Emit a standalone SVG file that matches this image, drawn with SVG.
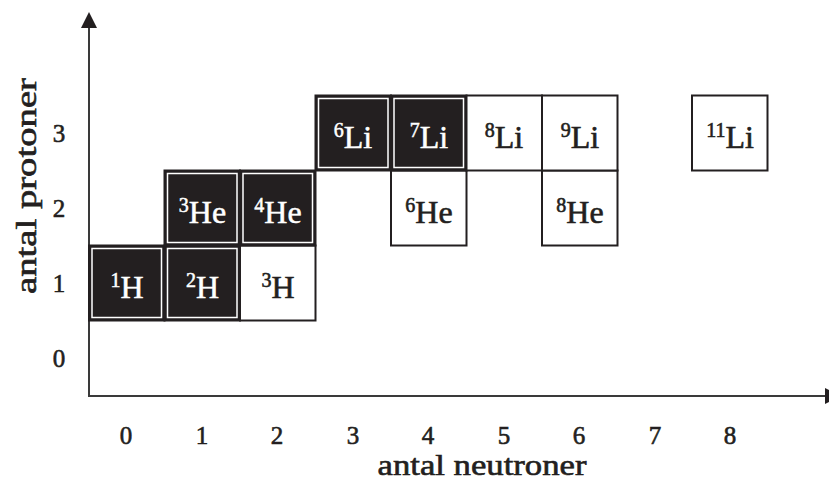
<svg xmlns="http://www.w3.org/2000/svg" width="829" height="487" viewBox="0 0 829 487">
<style>
text{font-family:"Liberation Serif","Times New Roman",serif;fill:#231f20;stroke:#231f20;stroke-width:0.6}
.tick{font-size:25px;text-anchor:middle}
.title{font-size:29px;text-anchor:middle}
.lbl{font-size:32px;text-anchor:middle}
.lbl tspan.s{font-size:20px}
.filled text{fill:#fff;stroke:#fff;stroke-width:0.5}
.box{stroke:#231f20;stroke-width:2}
.filled rect.box{fill:#231f20}
.open rect.box{fill:#fff}
.inner{fill:none;stroke:#fff;stroke-width:1.5}
.axis{stroke:#3a3a3a;stroke-width:2;fill:none}
</style>
<g id="axes">
<line class="axis" x1="89" y1="26" x2="89" y2="397"/>
<polygon points="89,12 81,28 97,28" fill="#231f20"/>
<line class="axis" x1="88" y1="396" x2="828" y2="396"/>
<polygon points="825,388 841,396 825,404" fill="#231f20"/>
</g>
<g id="tick-labels">
<text class="tick" x="126" y="444">0</text>
<text class="tick" x="202" y="444">1</text>
<text class="tick" x="277" y="444">2</text>
<text class="tick" x="353" y="444">3</text>
<text class="tick" x="428" y="444">4</text>
<text class="tick" x="504" y="444">5</text>
<text class="tick" x="579" y="444">6</text>
<text class="tick" x="655" y="444">7</text>
<text class="tick" x="730" y="444">8</text>
<text class="tick" x="59" y="367">0</text>
<text class="tick" x="59" y="292">1</text>
<text class="tick" x="59" y="217">2</text>
<text class="tick" x="59" y="142">3</text>
</g>
<text class="title" x="482" y="475" textLength="209" lengthAdjust="spacingAndGlyphs">antal neutroner</text>
<text class="title" transform="translate(36,186) rotate(-90)" x="0" y="0" textLength="216" lengthAdjust="spacingAndGlyphs">antal protoner</text>
<g id="H1" class="filled"><rect class="box" x="89" y="245.5" width="75.5" height="75"/><rect class="inner" x="92" y="248.5" width="69.5" height="69"/><text class="lbl" x="127" y="298"><tspan class="s" dy="-11">1</tspan><tspan dy="11">H</tspan></text></g>
<g id="H2" class="filled"><rect class="box" x="164.5" y="245.5" width="75.5" height="75"/><rect class="inner" x="167.5" y="248.5" width="69.5" height="69"/><text class="lbl" x="202.5" y="298"><tspan class="s" dy="-11">2</tspan><tspan dy="11">H</tspan></text></g>
<g id="H3" class="open"><rect class="box" x="240" y="245.5" width="75.5" height="75"/><text class="lbl" x="278" y="298"><tspan class="s" dy="-11">3</tspan><tspan dy="11">H</tspan></text></g>
<g id="He3" class="filled"><rect class="box" x="164.5" y="170.5" width="75.5" height="75"/><rect class="inner" x="167.5" y="173.5" width="69.5" height="69"/><text class="lbl" x="202.5" y="223"><tspan class="s" dy="-11">3</tspan><tspan dy="11">He</tspan></text></g>
<g id="He4" class="filled"><rect class="box" x="240" y="170.5" width="75.5" height="75"/><rect class="inner" x="243" y="173.5" width="69.5" height="69"/><text class="lbl" x="278" y="223"><tspan class="s" dy="-11">4</tspan><tspan dy="11">He</tspan></text></g>
<g id="He6" class="open"><rect class="box" x="391" y="170.5" width="75.5" height="75"/><text class="lbl" x="429" y="223"><tspan class="s" dy="-11">6</tspan><tspan dy="11">He</tspan></text></g>
<g id="He8" class="open"><rect class="box" x="542" y="170.5" width="75.5" height="75"/><text class="lbl" x="580" y="223"><tspan class="s" dy="-11">8</tspan><tspan dy="11">He</tspan></text></g>
<g id="Li6" class="filled"><rect class="box" x="315.5" y="95.5" width="75.5" height="75"/><rect class="inner" x="318.5" y="98.5" width="69.5" height="69"/><text class="lbl" x="353" y="148"><tspan class="s" dy="-11">6</tspan><tspan dy="11">Li</tspan></text></g>
<g id="Li7" class="filled"><rect class="box" x="391" y="95.5" width="75.5" height="75"/><rect class="inner" x="394" y="98.5" width="69.5" height="69"/><text class="lbl" x="429" y="148"><tspan class="s" dy="-11">7</tspan><tspan dy="11">Li</tspan></text></g>
<g id="Li8" class="open"><rect class="box" x="466.5" y="95.5" width="75.5" height="75"/><text class="lbl" x="504" y="148"><tspan class="s" dy="-11">8</tspan><tspan dy="11">Li</tspan></text></g>
<g id="Li9" class="open"><rect class="box" x="542" y="95.5" width="75.5" height="75"/><text class="lbl" x="580" y="148"><tspan class="s" dy="-11">9</tspan><tspan dy="11">Li</tspan></text></g>
<g id="Li11" class="open"><rect class="box" x="692" y="95.5" width="75.5" height="75"/><text class="lbl" x="730" y="148"><tspan class="s" dy="-11">11</tspan><tspan dy="11">Li</tspan></text></g>
</svg>
